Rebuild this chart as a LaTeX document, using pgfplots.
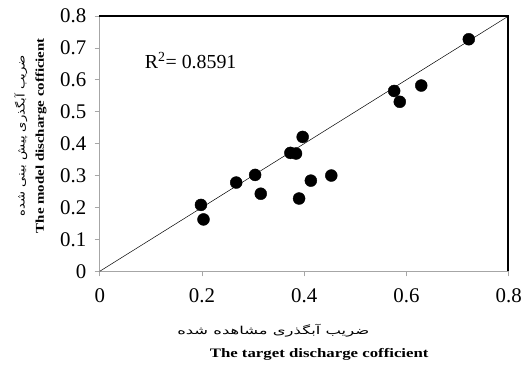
\documentclass[border=0pt]{standalone}
\usepackage{fontspec}
\setmainfont{Liberation Serif}
\newfontfamily\arabicfont[Script=Arabic]{DejaVu Sans}
\TeXXeTstate=1
\usepackage{pgfplots}
\pgfplotsset{compat=1.18}
\begin{document}
\begin{tikzpicture}
\begin{axis}[
  name=ax, at={(0,0)}, anchor=south west,
  scale only axis, width=410bp, height=256bp,
  xmin=0, xmax=0.8, ymin=0, ymax=0.8,
  xtick={0,0.2,0.4,0.6,0.8},
  ytick={0,0.1,0.2,0.3,0.4,0.5,0.6,0.7,0.8},
  tick align=outside, major tick length=5bp,
  xtick pos=bottom, ytick pos=left,
  tick style={gray!70, line width=0.6pt},
  axis line style={gray!70, line width=0.8pt},
  /pgf/number format/assume math mode=true,
  /pgf/number format/.cd, fixed, precision=1, /pgfplots/.cd,
  ticklabel style={font=\fontsize{21}{21}\selectfont},
  xticklabel style={yshift=-9bp},
  yticklabel style={xshift=-5bp},
  clip=false,
]
\addplot[black, line width=0.5pt, no marks] coordinates {(0,0) (0.8,0.8)};
\addplot[only marks, mark=*, mark size=6bp, black] coordinates {
(0.722,0.727) (0.576,0.565) (0.587,0.531) (0.629,0.582)
(0.397,0.421) (0.373,0.371) (0.384,0.369) (0.304,0.302)
(0.267,0.278) (0.315,0.243) (0.390,0.228) (0.413,0.284)
(0.453,0.300) (0.198,0.208) (0.203,0.1625)
};
\node[anchor=west, font=\fontsize{20}{20}\selectfont, inner sep=0pt] at (axis cs:0.088,0.66) {R\textsuperscript{2}= 0.8591};
\end{axis}
\fill[black] (-0.4bp,255.2bp) rectangle (410.8bp,257bp);
\fill[black] (408.6bp,0bp) rectangle (410.8bp,257bp);
\node at (174bp,-60bp) {\scalebox{1.5}[1]{\arabicfont\fontsize{11}{11}\selectfont\beginR ضریب آبگذری مشاهده شده\endR}};
\node at (220bp,-83bp) {\scalebox{1.3}[1]{\fontsize{13}{13}\selectfont\bfseries The target discharge cofficient}};
\node[rotate=90] at (-79bp,136bp) {\scalebox{1.2}[1]{\arabicfont\fontsize{11}{11}\selectfont\beginR ضریب آبگذری پیش بینی شده\endR}};
\node[rotate=90] at (-59bp,136bp) {\scalebox{1.25}[1]{\fontsize{12}{12}\selectfont\bfseries The model discharge cofficient}};
\path[use as bounding box] (-100bp,-95bp) rectangle (425bp,272bp);
\end{tikzpicture}
\end{document}
